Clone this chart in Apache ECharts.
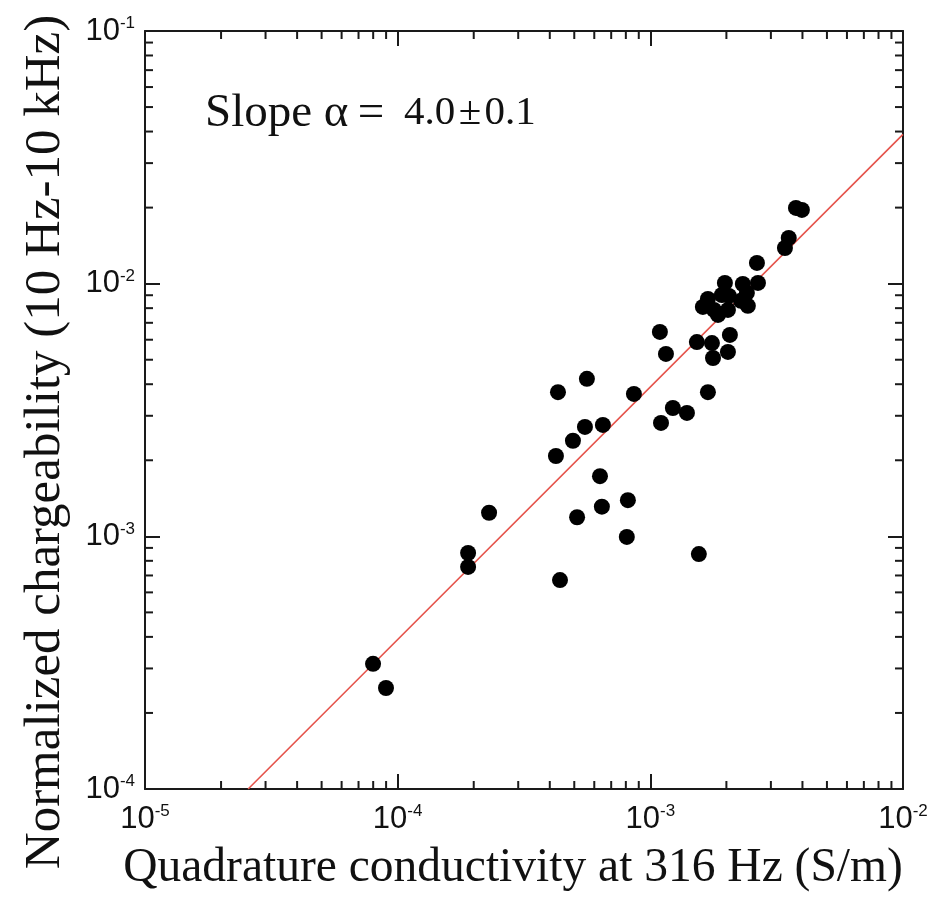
<!DOCTYPE html>
<html>
<head>
<meta charset="utf-8">
<script src="https://cdn.jsdelivr.net/npm/echarts@6/dist/echarts.min.js"></script>
<style>html,body{margin:0;padding:0;background:#fff}#c{width:937px;height:897px}</style>
</head>
<body>
<div id="c"></div>
<script>
// Quadrature conductivity at 316 Hz (S/m)
const sigmaQ = [7.99e-5, 8.99e-5, 1.90e-4, 1.90e-4, 2.30e-4, 4.23e-4, 4.31e-4, 4.39e-4, 4.94e-4, 5.13e-4,
  5.51e-4, 5.61e-4, 6.32e-4, 6.43e-4, 6.49e-4, 8.07e-4, 8.15e-4, 8.61e-4, 1.091e-3, 1.102e-3,
  1.153e-3, 1.228e-3, 1.396e-3, 1.528e-3, 1.556e-3, 1.690e-3, 1.753e-3, 1.770e-3, 2.028e-3, 2.065e-3,
  1.614e-3, 1.690e-3, 1.786e-3, 1.853e-3, 1.919e-3, 1.973e-3, 2.028e-3, 2.047e-3, 2.284e-3, 2.323e-3,
  2.41e-3, 2.432e-3, 2.667e-3, 2.642e-3, 3.41e-3, 3.53e-3, 3.77e-3, 3.98e-3];
// Normalized chargeability (10 Hz-10 kHz)
const chargeability = [3.13e-4, 2.51e-4, 8.59e-4, 7.57e-4, 1.24e-3, 2.08e-3, 3.72e-3, 6.71e-4, 2.39e-3, 1.19e-3,
  2.71e-3, 4.20e-3, 1.73e-3, 1.31e-3, 2.76e-3, 9.95e-4, 1.39e-3, 3.66e-3, 6.44e-3, 2.81e-3,
  5.27e-3, 3.22e-3, 3.08e-3, 5.87e-3, 8.51e-4, 3.72e-3, 5.82e-3, 5.08e-3, 5.37e-3, 6.27e-3,
  8.09e-3, 8.70e-3, 7.87e-3, 7.52e-3, 9.02e-3, 1.007e-2, 7.87e-3, 8.94e-3, 8.55e-3, 9.97e-3,
  9.19e-3, 8.17e-3, 1.007e-2, 1.208e-2, 1.384e-2, 1.517e-2, 1.995e-2, 1.959e-2];
// fitted line endpoints
const fitX = [2.56e-5, 1e-2];
const fitY = [1e-4, 3.9e-2];
// axis ranges
const xRange = [1e-5, 1e-2];
const yRange = [1e-4, 1e-1];
// minor tick values
const xMinor = [2e-5,3e-5,4e-5,5e-5,6e-5,7e-5,8e-5,9e-5,2e-4,3e-4,4e-4,5e-4,6e-4,7e-4,8e-4,9e-4,2e-3,3e-3,4e-3,5e-3,6e-3,7e-3,8e-3,9e-3];
const yMinor = [2e-4,3e-4,4e-4,5e-4,6e-4,7e-4,8e-4,9e-4,2e-3,3e-3,4e-3,5e-3,6e-3,7e-3,8e-3,9e-3,2e-2,3e-2,4e-2,5e-2,6e-2,7e-2,8e-2,9e-2];
const xTitle = 'Quadrature conductivity at 316 Hz (S/m)';
const yTitle = 'Normalized chargeability (10 Hz-10 kHz)';

const AX = '#1a1a1a';
const serif = '"Liberation Serif","Times New Roman",serif';
const sans = '"Liberation Sans",Arial,sans-serif';

function powLabel(v) {
  const e = Math.round(Math.log10(v));
  return '{b|10}{s|' + e + '}';
}
const richLab = {
  b: { fontSize: 31, fontFamily: sans, color: '#111' },
  s: { fontSize: 17, fontFamily: sans, color: '#111', padding: [0, 0, 15, 0] }
};

const chart = echarts.init(document.getElementById('c'), null, { renderer: 'canvas' });

function baseAxis(extra) {
  return Object.assign({
    type: 'log', logBase: 10,
    axisLine: { show: true, lineStyle: { color: AX, width: 2 } },
    axisTick: { show: true, inside: true, length: 15, lineStyle: { color: AX, width: 2 } },
    splitLine: { show: false },
    minorTick: { show: false }
  }, extra);
}

chart.setOption({
  animation: false,
  backgroundColor: '#fff',
  grid: { left: 145, right: 34, top: 31, bottom: 108, containLabel: false, outerBoundsMode: 'none' },
  xAxis: [
    baseAxis({ min: xRange[0], max: xRange[1], position: 'bottom',
      name: xTitle, nameLocation: 'middle', nameGap: 56,
      nameTextStyle: { fontFamily: serif, fontSize: 47.5, color: '#111', padding: [0, 22, 0, 0] },
      axisLabel: { margin: 14, formatter: powLabel, rich: richLab } }),
    baseAxis({ min: xRange[0], max: xRange[1], position: 'top', axisLabel: { show: false } })
  ],
  yAxis: [
    baseAxis({ min: yRange[0], max: yRange[1], position: 'left',
      name: yTitle, nameLocation: 'middle', nameGap: 74, nameRotate: 90,
      nameTextStyle: { fontFamily: serif, fontSize: 51, color: '#111', padding: [0, 64, 0, 0] },
      axisLabel: { margin: 10, formatter: powLabel, rich: richLab } }),
    baseAxis({ min: yRange[0], max: yRange[1], position: 'right', axisLabel: { show: false } })
  ],
  graphic: [{
    type: 'text', left: 205, top: 90,
    style: {
      text: '{a|Slope α\u2009=\u2009}{n| 4.0\u200a±\u200a0.1}',
      rich: {
        a: { fontFamily: serif, fontSize: 47, fill: '#111' },
        n: { fontFamily: serif, fontSize: 41, fill: '#111' }
      }
    }
  }],
  series: [
    {
      type: 'line', xAxisIndex: 0, yAxisIndex: 0,
      data: fitX.map((x, i) => [x, fitY[i]]),
      showSymbol: false, symbol: 'none',
      lineStyle: { color: '#e5534b', width: 1.6 },
      z: 2
    },
    {
      type: 'scatter', xAxisIndex: 0, yAxisIndex: 0,
      data: sigmaQ.map((x, i) => [x, chargeability[i]]),
      symbol: 'circle', symbolSize: 16,
      itemStyle: { color: '#000', opacity: 1 },
      z: 3
    },
    {
      type: 'custom', xAxisIndex: 0, yAxisIndex: 0,
      data: xMinor.map(v => [v, 1e-3]),
      silent: true, clip: false,
      renderItem: function (params, api) {
        const cs = params.coordSys;
        const p = api.coord([api.value(0), 1e-3]);
        const L = 8, st = { stroke: AX, lineWidth: 2 };
        return { type: 'group', children: [
          { type: 'line', shape: { x1: p[0], y1: cs.y + cs.height, x2: p[0], y2: cs.y + cs.height - L }, style: st },
          { type: 'line', shape: { x1: p[0], y1: cs.y, x2: p[0], y2: cs.y + L }, style: st }
        ]};
      },
      z: 4
    },
    {
      type: 'custom', xAxisIndex: 0, yAxisIndex: 0,
      data: yMinor.map(v => [1e-4, v]),
      silent: true, clip: false,
      renderItem: function (params, api) {
        const cs = params.coordSys;
        const p = api.coord([1e-4, api.value(1)]);
        const L = 8, st = { stroke: AX, lineWidth: 2 };
        return { type: 'group', children: [
          { type: 'line', shape: { x1: cs.x, y1: p[1], x2: cs.x + L, y2: p[1] }, style: st },
          { type: 'line', shape: { x1: cs.x + cs.width, y1: p[1], x2: cs.x + cs.width - L, y2: p[1] }, style: st }
        ]};
      },
      z: 4
    }
  ]
});
</script>
</body>
</html>
